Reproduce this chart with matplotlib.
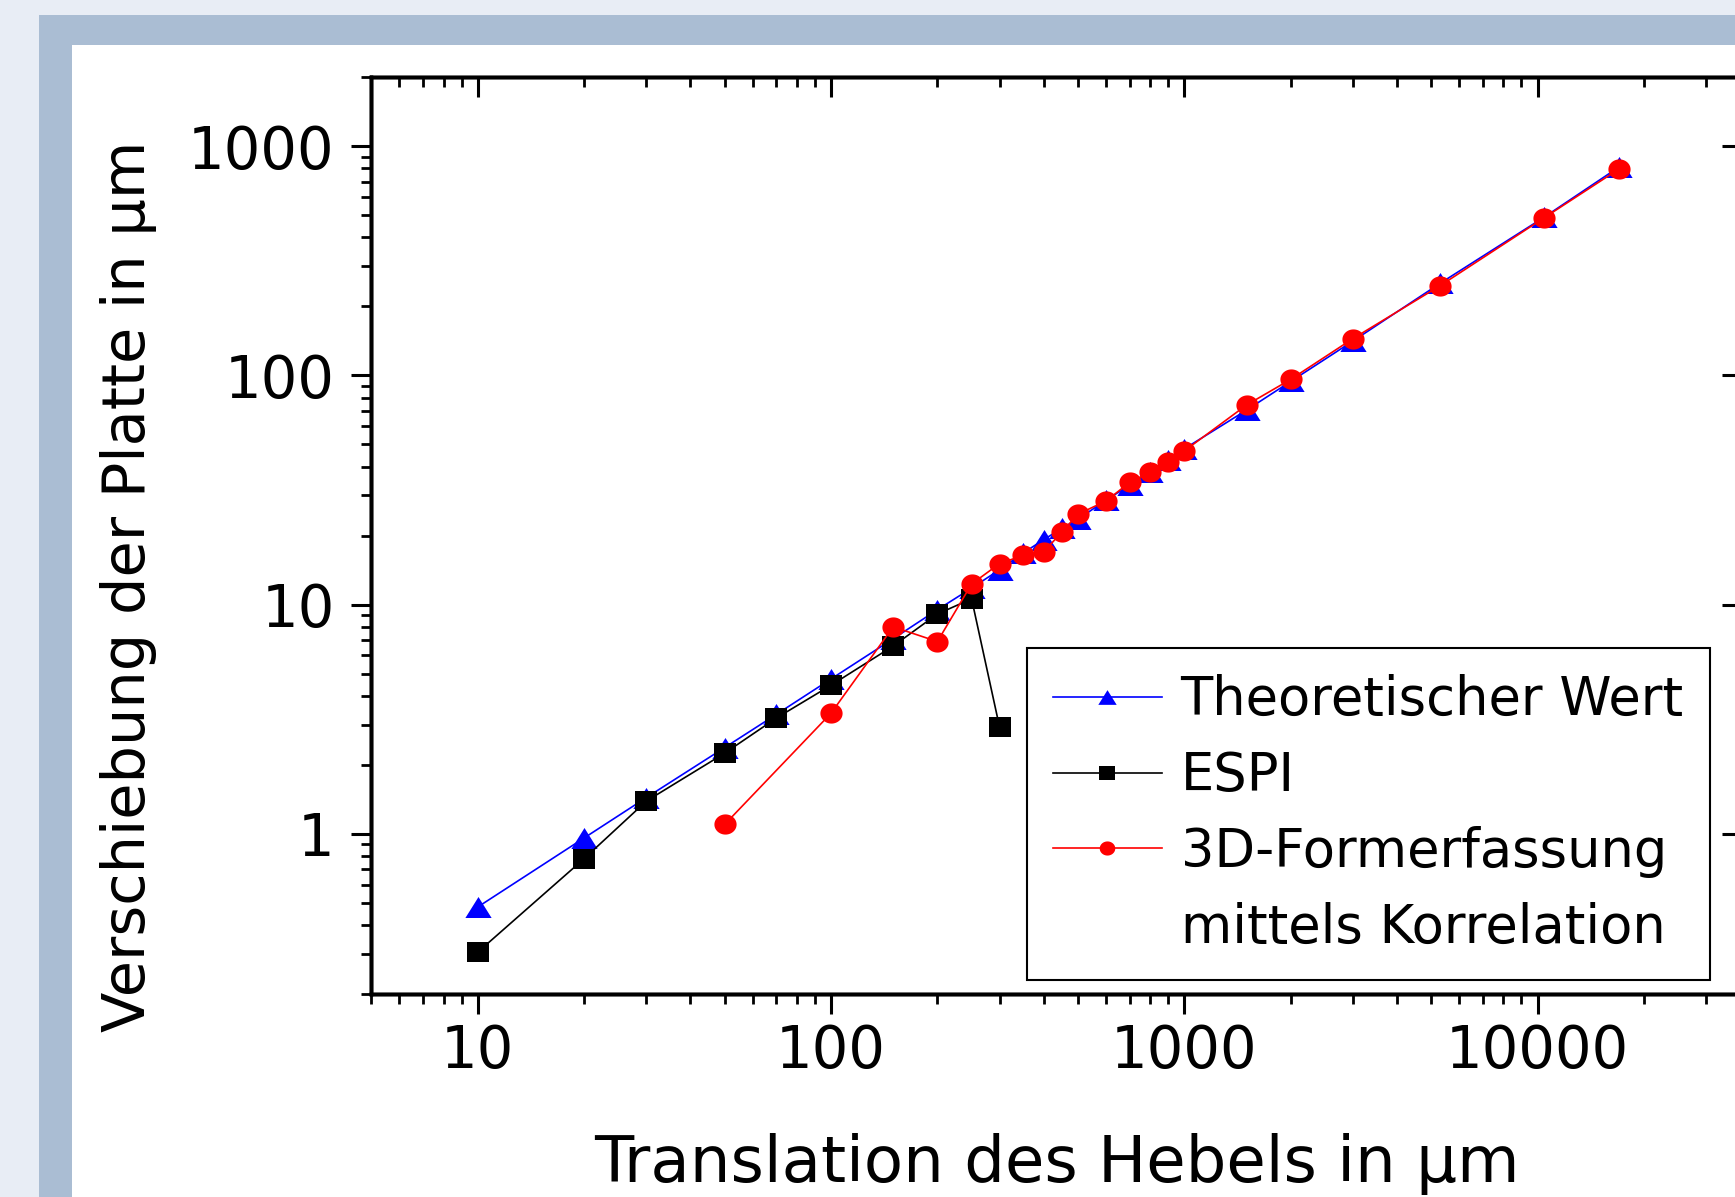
import matplotlib
matplotlib.use("Agg")
import matplotlib.pyplot as plt
import numpy as np
from matplotlib.lines import Line2D
from matplotlib.patches import Rectangle
from matplotlib.ticker import FuncFormatter, LogLocator, NullFormatter

# values (x: Translation des Hebels, y: Verschiebung, both in µm)
theo_x = [10, 20, 30, 50, 70, 100, 150, 200, 250, 300, 350, 400, 450, 500,
          600, 700, 800, 900, 1000, 1500, 2000, 3000, 5300, 10450, 17000]
theo_y = [0.48, 0.96, 1.44, 2.38, 3.32, 4.74, 7.1, 9.5, 11.8, 14.2, 16.8, 19.2, 21.5, 23.6,
          28.5, 33.2, 38.0, 42.8, 47.8, 70.5, 94.0, 141, 252, 490, 810]

espi_x = [10, 20, 30, 50, 70, 100, 150, 200, 250, 300]
espi_y = [0.305, 0.78, 1.39, 2.25, 3.20, 4.45, 6.6, 9.1, 10.6, 2.92]

corr_x = [50, 100, 150, 200, 250, 300, 350, 400, 450, 500, 600, 700, 800, 900,
          1000, 1500, 2000, 3000, 5300, 10450, 17000]
corr_y = [1.10, 3.36, 8.0, 6.9, 12.3, 15.1, 16.4, 17.0, 20.7, 24.8, 28.3, 34.1, 37.8, 42.0,
          46.8, 74.2, 96, 144.5, 246, 487, 794]

labels = ["Theoretischer Wert", "ESPI", "3D-Formerfassung", "mittels Korrelation"]

W, H = 1735, 1197
BG = "#e8edf5"
BAND = "#aabdd3"

plt.rcParams["font.family"] = ["DejaVu Sans"]

# Origin-like marker shapes (slightly wider than tall, as on the slide)
t = np.linspace(0, 2 * np.pi, 48)
TRI = [(-1.25, -1.0), (1.25, -1.0), (0.0, 1.0), (-1.25, -1.0)]
SQR = [(-1.1, -1.0), (1.1, -1.0), (1.1, 1.0), (-1.1, 1.0), (-1.1, -1.0)]
ELL = list(zip(1.1 * np.cos(t), np.sin(t)))

fig = plt.figure(figsize=(W / 100, H / 100), dpi=100, facecolor=BG)
fig.add_artist(Rectangle((39 / W, 0), 1, 1 - 15 / H, transform=fig.transFigure,
                         facecolor=BAND, edgecolor="none", zorder=-3))
fig.add_artist(Rectangle((72 / W, 0), 1, 1 - 45 / H, transform=fig.transFigure,
                         facecolor="white", edgecolor="none", zorder=-2))

x0, x1, y0, y1 = 371.4, 1742.4, 77.0, 994.2
ax = fig.add_axes([x0 / W, 1 - y1 / H, (x1 - x0) / W, (y1 - y0) / H])
ax.set_xscale("log")
ax.set_yscale("log")
ax.set_xlim(5, 38000)
ax.set_ylim(0.2, 2000)

l_theo, = ax.plot(theo_x, theo_y, color="#0000ff", lw=1.2, marker=TRI, ms=18.9,
                  mew=0, zorder=3)
l_espi, = ax.plot(espi_x, espi_y, color="black", lw=1.2, marker=SQR, ms=15.8,
                  mew=0, zorder=4)
l_corr, = ax.plot(corr_x, corr_y, color="#ff0000", lw=1.2, marker=ELL, ms=16.0,
                  mew=0, zorder=5)

fmt = FuncFormatter(lambda v, p: f"{v:g}")
for axis in (ax.xaxis, ax.yaxis):
    axis.set_major_locator(LogLocator(base=10, numticks=20))
    axis.set_minor_locator(LogLocator(base=10, subs=np.arange(2, 10), numticks=50))
    axis.set_major_formatter(fmt)
    axis.set_minor_formatter(NullFormatter())

ax.tick_params(which="major", direction="out", length=14.4, width=2.2,
               labelsize=41.5, color="black")
ax.tick_params(which="minor", direction="out", length=7.2, width=2.0)
ax.tick_params(axis="x", which="major", pad=6)
ax.tick_params(axis="y", which="major", pad=12)

# mirrored axes: ticks pointing inwards, no labels
top = ax.twiny()
top.set_xscale("log")
top.set_xlim(ax.get_xlim())
top.xaxis.set_major_locator(LogLocator(base=10, numticks=20))
top.xaxis.set_minor_locator(LogLocator(base=10, subs=np.arange(2, 10), numticks=50))
top.tick_params(axis="x", which="both", direction="in", labeltop=False)
top.tick_params(axis="x", which="major", length=14.4, width=2.2)
top.tick_params(axis="x", which="minor", length=7.2, width=2.0)

right = ax.twinx()
right.set_yscale("log")
right.set_ylim(ax.get_ylim())
right.yaxis.set_major_locator(LogLocator(base=10, numticks=20))
right.yaxis.set_minor_locator(LogLocator(base=10, subs=np.arange(2, 10), numticks=50))
right.tick_params(axis="y", which="both", direction="in", labelright=False)
right.tick_params(axis="y", which="major", length=14.4, width=2.2)
right.tick_params(axis="y", which="minor", length=5, width=2.0)

for a in (ax, top, right):
    for sp in a.spines.values():
        sp.set_linewidth(2.5)
        sp.set_color("black")

ax.set_xlabel("Translation des Hebels in μm", fontsize=46.2)
ax.xaxis.label.set_va("baseline")
ax.xaxis.set_label_coords(0.5, -0.2048)

ax.set_ylabel("Verschiebung der Platte in μm", fontsize=42.5)
yl = ax.yaxis.label
yl.set_rotation_mode("anchor")
yl.set_va("baseline")
yl.set_ha("center")
ax.yaxis.set_label_coords((145 - x0) / (x1 - x0), (y1 - 586) / (y1 - y0))

blank = Line2D([], [], linestyle="none", marker="")
leg = ax.legend([l_theo, l_espi, l_corr, blank], labels,
                loc="upper left",
                bbox_to_anchor=((1027 - x0) / (x1 - x0), (y1 - 648) / (y1 - y0)),
                borderaxespad=0, fontsize=38, frameon=True, fancybox=False,
                edgecolor="black", framealpha=1, borderpad=0.5, labelspacing=0.45,
                handlelength=2.05, handletextpad=0.36, markerscale=0.7)
leg.get_frame().set_linewidth(1.5)
leg.set_zorder(10)

fig.savefig("out.png", dpi=100, facecolor=BG)
